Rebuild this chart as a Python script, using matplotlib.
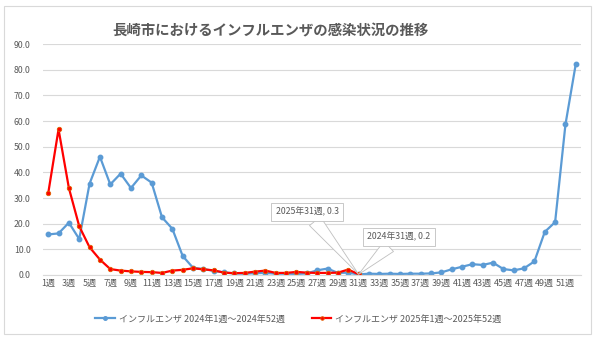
import matplotlib
matplotlib.use('Agg')
import matplotlib.pyplot as plt
from matplotlib.patches import Rectangle

plt.rcParams['font.family'] = ['Noto Sans CJK JP', 'DejaVu Sans']

# weekly values, Nagasaki city
weeks = [str(w) + '週' for w in range(1, 53)]
flu_2024 = [15.8, 16.2, 20.4, 14.0, 35.6, 46.1, 35.3, 39.5, 33.9, 38.8,
            36.0, 22.5, 18.0, 7.4, 2.8, 2.3, 1.6, 1.0, 0.6, 0.5,
            0.7, 0.8, 0.5, 0.5, 0.4, 0.6, 1.8, 2.5, 0.8, 0.9,
            0.2, 0.5, 0.4, 0.5, 0.4, 0.5, 0.5, 0.6, 1.0, 2.2,
            3.2, 4.2, 3.9, 4.8, 2.3, 1.8, 2.6, 5.3, 16.8, 20.6,
            58.7, 82.3]
flu_2025 = [31.8, 56.8, 33.9, 19.0, 10.8, 6.0, 2.3, 1.7, 1.4, 1.2,
            1.1, 0.8, 1.7, 2.0, 2.6, 2.2, 1.8, 0.9, 0.7, 0.8,
            1.3, 1.7, 0.8, 0.8, 1.2, 0.9, 0.8, 0.8, 0.9, 2.1,
            0.3]
label_2024 = 'インフルエンザ 2024年1週～2024年52週'
label_2025 = 'インフルエンザ 2025年1週～2025年52週'
title = '長崎市におけるインフルエンザの感染状況の推移'

grey = '#595959'
grid = '#d9d9d9'

fig = plt.figure(figsize=(6, 3.42), dpi=100)
fig.patches.append(Rectangle((0.007, 0.023), 0.978, 0.96, transform=fig.transFigure,
                             fill=False, edgecolor=grid, linewidth=0.8))
ax = fig.add_axes([0.0717, 0.196, 0.8966, 0.675])

x24 = list(range(1, len(flu_2024) + 1))
x25 = list(range(1, len(flu_2025) + 1))
l1, = ax.plot(x24, flu_2024, color='#5B9BD5', lw=1.6, marker='o', ms=3.2, label=label_2024)
l2, = ax.plot(x25, flu_2025, color='#FF0000', lw=1.6, marker='o', ms=3.2,
              mfc='#FF0000', mec='#E06000', mew=0.6, label=label_2025)

ax.set_xlim(0.5, 52.5)
ax.set_ylim(0, 90)
ax.set_yticks(range(0, 91, 10))
ax.set_yticklabels(['%.1f' % v for v in range(0, 91, 10)])
ax.set_xticks(x24[::2])
ax.set_xticklabels(weeks[::2])
ax.tick_params(axis='y', length=0, labelsize=6.3, colors=grey, pad=9)
ax.tick_params(axis='x', length=0, labelsize=6.5, colors=grey, pad=3)
ax.grid(axis='y', color=grid, lw=0.8)
ax.set_axisbelow(True)
for s in ['top', 'right', 'left']:
    ax.spines[s].set_visible(False)
ax.spines['bottom'].set_color(grid)

# callouts at week 31
i = 30
ax.annotate('2025年' + weeks[i] + ', ' + str(flu_2025[i]), xy=(x25[i], flu_2025[i]),
            xytext=(-37, 45), textcoords='offset points', ha='center', va='center',
            fontsize=6.3, color=grey,
            bbox=dict(boxstyle='square,pad=0.5', fc='white', ec='#bfbfbf', lw=0.6),
            arrowprops=dict(arrowstyle='wedge,tail_width=1.6', fc='white', ec='#bfbfbf',
                            lw=0.6, shrinkA=0, shrinkB=0))
ax.annotate('2024年' + weeks[i] + ', ' + str(flu_2024[i]), xy=(x24[i], flu_2024[i]),
            xytext=(29, 27), textcoords='offset points', ha='center', va='center',
            fontsize=6.3, color=grey,
            bbox=dict(boxstyle='square,pad=0.5', fc='white', ec='#bfbfbf', lw=0.6),
            arrowprops=dict(arrowstyle='wedge,tail_width=1.6', fc='white', ec='#bfbfbf',
                            lw=0.6, shrinkA=0, shrinkB=0))

fig.text(0.451, 0.908, title, ha='center', va='center', fontsize=10.4,
         fontweight='bold', color=grey)

fig.legend(handles=[l1, l2], loc='center', bbox_to_anchor=(0.497, 0.067), ncol=2,
           frameon=False, fontsize=6.5, labelcolor=grey, handlelength=2.2,
           columnspacing=3.0, handletextpad=0.4, markerscale=0.8)

plt.savefig('out.png', dpi=100)
